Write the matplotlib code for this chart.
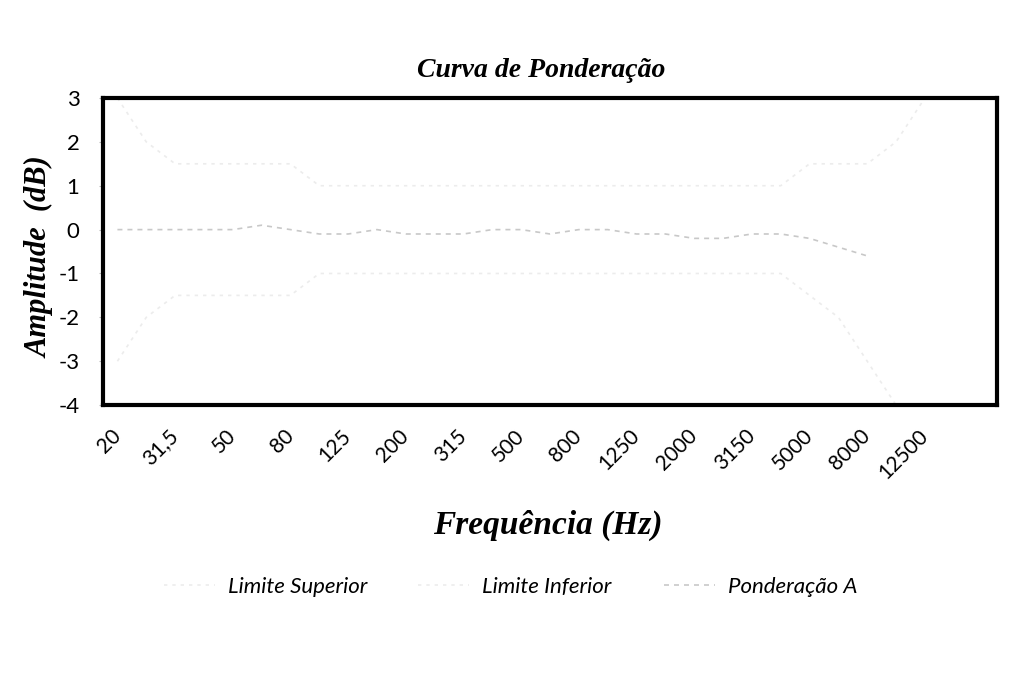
import numpy as np
import matplotlib
matplotlib.use("Agg")
import matplotlib.pyplot as plt
from matplotlib.lines import Line2D

# bandas de 1/3 de oitava
frequencias = ['20', '25', '31,5', '40', '50', '63', '80', '100', '125', '160',
               '200', '250', '315', '400', '500', '630', '800', '1000', '1250',
               '1600', '2000', '2500', '3150', '4000', '5000', '6300', '8000',
               '10000', '12500', '16000', '20000']
limite_superior = [3, 2, 1.5, 1.5, 1.5, 1.5, 1.5, 1, 1, 1, 1, 1, 1, 1, 1, 1,
                   1, 1, 1, 1, 1, 1, 1, 1, 1.5, 1.5, 1.5, 2, 3, 3, 3]
limite_inferior = [-3, -2, -1.5, -1.5, -1.5, -1.5, -1.5, -1, -1, -1, -1, -1,
                   -1, -1, -1, -1, -1, -1, -1, -1, -1, -1, -1, -1, -1.5, -2,
                   -3, -4, -6, np.nan, np.nan]
ponderacao_a = [0.0, 0.0, 0.0, 0.0, 0.0, 0.1, 0.0, -0.1, -0.1, 0.0, -0.1,
                -0.1, -0.1, 0.0, 0.0, -0.1, 0.0, 0.0, -0.1, -0.1, -0.2, -0.2,
                -0.1, -0.1, -0.2, -0.4, -0.6, np.nan, np.nan, np.nan, np.nan]
nomes = ["Limite Superior", "Limite Inferior", "Ponderação A"]

fig = plt.figure(figsize=(10.29, 6.74), dpi=100)
ax = fig.add_axes([0.1001, 0.399, 0.8688, 0.4556])

# as linhas quase sumiram no original digitalizado, por isso cinza bem claro
cores = ["#ececec", "#ececec", "#c8c8c8"]
estilos = [(0, (2, 3)), (0, (2, 3)), (0, (3, 3))]
x = np.arange(len(frequencias))
for serie, cor, ls, nome in zip([limite_superior, limite_inferior, ponderacao_a],
                                cores, estilos, nomes):
    ax.plot(x, serie, color=cor, lw=1.2, ls=ls, label=nome)

ax.set_xlim(-0.5, len(frequencias) - 0.5)
ax.set_ylim(-4, 3)
ax.set_yticks(range(-4, 4))
ax.set_yticklabels([str(v) for v in range(-4, 4)], fontsize=16, family="Lato")
ax.set_xticks(x[:29:2])
ax.set_xticklabels(frequencias[:29:2], rotation=45, ha="right", va="center",
                   rotation_mode="anchor", fontsize=15, family="Lato")
ax.tick_params(axis="x", length=0, pad=20)
ax.tick_params(axis="y", length=3, color="#bbbbbb", pad=14)

for s in ax.spines.values():
    s.set_linewidth(3)
    s.set_color("black")

fig.text(0.526, 0.896, "Curva de Ponderação", ha="center", va="center",
         fontsize=20, family="Liberation Serif", weight="bold", style="italic")
fig.text(0.532, 0.221, "Frequência (Hz)", ha="center", va="center",
         fontsize=24, family="Liberation Serif", weight="bold", style="italic")
fig.text(0.039, 0.619, "Amplitude  (dB)", ha="center", va="center", rotation=90,
         fontsize=22, family="Liberation Serif", weight="bold", style="italic")

# legenda: uma entrada de cada vez para acertar a posição
inicio = [164, 418, 664]
for nome, cor, ls, x0 in zip(nomes, cores, estilos, inicio):
    h = Line2D([], [], color=cor, lw=1.2, ls=ls)
    fig.legend(handles=[h], labels=[nome], loc="center left",
               bbox_to_anchor=(x0 / 1029, 0.129), frameon=False,
               borderaxespad=0, borderpad=0, handlelength=2.3, handletextpad=0.6,
               prop={"family": "Lato", "style": "italic", "size": 16})

fig.savefig("out.png", dpi=100)
